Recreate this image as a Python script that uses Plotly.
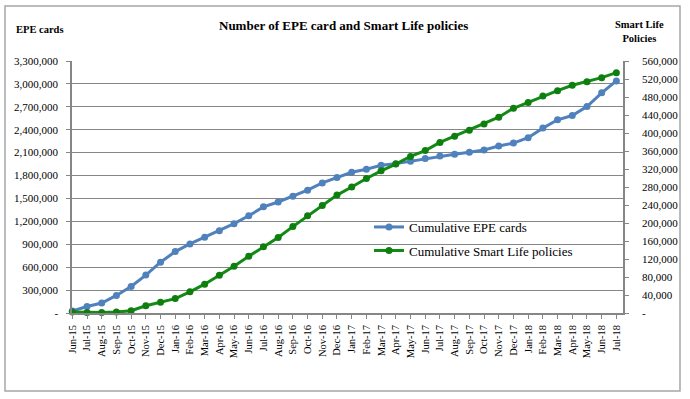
import plotly.graph_objects as go

months = ["Jun-15","Jul-15","Aug-15","Sep-15","Oct-15","Nov-15","Dec-15",
          "Jan-16","Feb-16","Mar-16","Apr-16","May-16","Jun-16","Jul-16","Aug-16","Sep-16","Oct-16","Nov-16","Dec-16",
          "Jan-17","Feb-17","Mar-17","Apr-17","May-17","Jun-17","Jul-17","Aug-17","Sep-17","Oct-17","Nov-17","Dec-17",
          "Jan-18","Feb-18","Mar-18","Apr-18","May-18","Jun-18","Jul-18"]

epe_cards = [25000, 85000, 130000, 230000, 347000, 496000, 665000,
             804000, 904000, 991000, 1078000, 1170000, 1273000, 1390000, 1454000, 1530000, 1608000, 1704000, 1774000,
             1843000, 1882000, 1934000, 1956000, 1987000, 2024000, 2056000, 2078000, 2104000, 2134000, 2186000, 2225000,
             2296000, 2421000, 2530000, 2586000, 2704000, 2883000, 3039000]

smart_life = [2000, 1000, 1000, 2000, 5000, 16000, 24000,
              32000, 47000, 64000, 84000, 104000, 126000, 147000, 168000, 192000, 216000, 239000, 262000,
              280000, 299000, 316000, 331000, 348000, 361000, 379000, 393000, 406000, 420000, 435000, 455000,
              468000, 482000, 494000, 506000, 514000, 523000, 534000]

left_ticks = list(range(0, 3300001, 300000))
left_labels = ["-" if v == 0 else f"{v:,}" for v in left_ticks]
right_ticks = list(range(0, 560001, 40000))
right_labels = ["-" if v == 0 else f"{v:,}" for v in right_ticks]

FONT = "Times New Roman, Liberation Serif, serif"
BLUE = "#4F81BD"
GREEN = "#138A13"
GRID = "#868686"

x_idx = list(range(len(months)))

fig = go.Figure()
fig.add_trace(go.Scatter(
    x=x_idx, y=epe_cards, name="Cumulative EPE cards", mode="lines+markers",
    line=dict(color=BLUE, width=3), marker=dict(color=BLUE, size=7),
    cliponaxis=False, yaxis="y", legend="legend", showlegend=True))
fig.add_trace(go.Scatter(
    x=x_idx, y=smart_life, name="Cumulative Smart Life policies", mode="lines+markers",
    line=dict(color=GREEN, width=3), marker=dict(color="#0E7E0E", size=7),
    cliponaxis=False, yaxis="y2", legend="legend2", showlegend=True))

L, R, T, B = 72, 623, 61, 313
W, H = R - L, B - T
def px(p): return (p - L) / W
def py(p): return (B - p) / H

fig.update_layout(
    width=690, height=399, showlegend=True,
    margin=dict(l=L, r=690 - R, t=T, b=399 - B),
    paper_bgcolor="white", plot_bgcolor="white",
    font=dict(family=FONT, size=11, color="black"),
    xaxis=dict(
        range=[-0.02, 37.45], tickmode="array", tickvals=x_idx, ticktext=months,
        tickangle=-90, tickfont=dict(size=10.5), showgrid=False, zeroline=False,
        showline=True, linecolor=GRID, linewidth=1.5,
        ticks="outside", ticklen=4, tickcolor=GRID, ticklabelstandoff=2),
    yaxis=dict(
        range=[0, 3300000], tickmode="array", tickvals=left_ticks, ticktext=left_labels,
        showgrid=True, gridcolor=GRID, gridwidth=1, zeroline=False,
        showline=True, linecolor=GRID, linewidth=1.5,
        ticks="outside", ticklen=4, tickcolor=GRID, ticklabelstandoff=6),
    yaxis2=dict(
        range=[0, 560000], tickmode="array", tickvals=right_ticks, ticktext=right_labels,
        overlaying="y", side="right", showgrid=False, zeroline=False,
        showline=True, linecolor=GRID, linewidth=1.5,
        ticks="outside", ticklen=4, tickcolor=GRID, ticklabelstandoff=11),
    legend=dict(x=px(369), y=py(227), xanchor="left", yanchor="middle",
                bgcolor="rgba(0,0,0,0)", font=dict(size=13, family=FONT)),
    legend2=dict(x=px(369), y=py(250.5), xanchor="left", yanchor="middle",
                 bgcolor="rgba(0,0,0,0)", font=dict(size=13, family=FONT)),
    annotations=[
        dict(text="<b>Number of EPE card and Smart Life policies</b>", x=px(343), y=py(25),
             xref="paper", yref="paper", showarrow=False, xanchor="center", yanchor="middle",
             font=dict(size=13, family=FONT)),
        dict(text="<b>EPE cards</b>", x=px(40), y=py(29),
             xref="paper", yref="paper", showarrow=False, xanchor="center", yanchor="middle",
             font=dict(size=10.5, family=FONT)),
        dict(text="<b>Smart Life<br>Policies</b>", x=px(639), y=py(32), align="center",
             xref="paper", yref="paper", showarrow=False, xanchor="center", yanchor="middle",
             font=dict(size=10.5, family=FONT)),
    ],
    shapes=[dict(type="rect", xref="paper", yref="paper",
                 x0=px(5), x1=px(680), y0=py(391), y1=py(6),
                 line=dict(color="#A6A6A6", width=1.5), fillcolor="rgba(0,0,0,0)", layer="below")],
)

fig.write_html("out.html", config={"displayModeBar": False},
               post_script="document.body.style.margin='0';document.body.style.padding='0';document.body.style.overflow='hidden';")
